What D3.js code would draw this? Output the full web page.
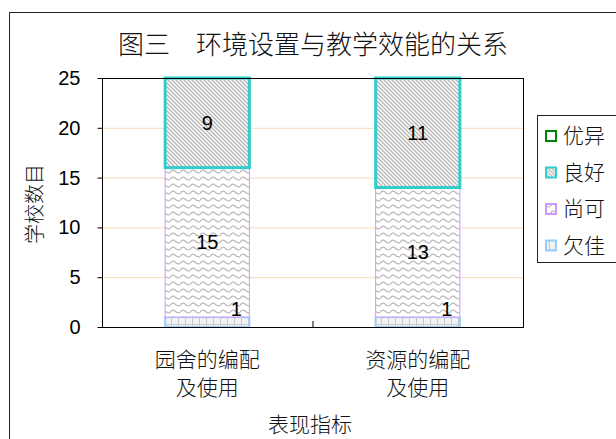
<!DOCTYPE html>
<html>
<head>
<meta charset="utf-8">
<script src="https://cdn.jsdelivr.net/npm/d3@7"></script>
<style>
  body { margin: 0; background: #fff; }
  svg { display: block; }
  text { font-family: "Liberation Sans", Arial, "Noto Sans CJK SC", sans-serif; fill: #000; }
  .cjk { font-family: "Noto Sans CJK SC", sans-serif; font-weight: 300; fill: #111; }
</style>
</head>
<body>
<svg width="616" height="439"></svg>
<script>
// chart data
const categories = ["园舍的编配\n及使用", "资源的编配\n及使用"];
const seriesNames = ["欠佳", "尚可", "良好", "优异"];
const poor = [1, 1];
const fair = [15, 13];
const good = [9, 11];
const excellent = [0, 0];
const yTicks = [0, 5, 10, 15, 20, 25];

const svg = d3.select("svg"),
      width = 616,
      height = 439;

const margin = {left: 102, top: 78, right: 523, bottom: 327};

// outer frame
svg.append("rect")
    .attr("x", 9.5).attr("y", 12.5)
    .attr("width", 640).attr("height", 460)
    .attr("fill", "none").attr("stroke", "#222").attr("stroke-width", 1);

// patterns
const defs = svg.append("defs");

const diag = defs.append("pattern")
    .attr("id", "diag").attr("patternUnits", "userSpaceOnUse")
    .attr("width", 4).attr("height", 4);
diag.append("rect").attr("width", 4).attr("height", 4).attr("fill", "#fff");
diag.append("path").attr("d", "M-1,-1 L5,5 M-1,3 L1,5 M3,-1 L5,1")
    .attr("stroke", "#b4b4b4").attr("stroke-width", 1.3);

const wave = defs.append("pattern")
    .attr("id", "wave").attr("patternUnits", "userSpaceOnUse")
    .attr("width", 10).attr("height", 7);
wave.append("rect").attr("width", 10).attr("height", 7).attr("fill", "#fff");
wave.append("path").attr("d", "M0,4.5 Q2.5,0.5 5,3 T10,4.5")
    .attr("fill", "none").attr("stroke", "#bcbcbc").attr("stroke-width", 1.3);

const grid = defs.append("pattern")
    .attr("id", "grid").attr("patternUnits", "userSpaceOnUse")
    .attr("width", 7).attr("height", 10);
grid.append("rect").attr("width", 7).attr("height", 10).attr("fill", "#f2f2f2");
grid.append("path").attr("d", "M3.5,0 L3.5,10 M0,4.5 L7,4.5")
    .attr("stroke", "#c8c8c8").attr("stroke-width", 1);

const styles = {
  "欠佳": {fill: "url(#grid)", stroke: "#99ccff", sw: 2},
  "尚可": {fill: "url(#wave)", stroke: "#cc99ff", sw: 1},
  "良好": {fill: "url(#diag)", stroke: "#33cccc", sw: 3},
  "优异": {fill: "#fff", stroke: "#008000", sw: 2}
};

const x = d3.scaleBand()
    .domain(categories)
    .range([margin.left, margin.right])
    .paddingInner(0.6)
    .paddingOuter(0.3);

const y = d3.scaleLinear()
    .domain([0, 25])
    .range([margin.bottom, margin.top]);

// gridlines
svg.append("g")
    .selectAll("line")
    .data(yTicks.filter(d => d > 0 && d < 25))
    .enter().append("line")
    .attr("x1", margin.left).attr("x2", margin.right)
    .attr("y1", d => y(d) + 0.5).attr("y2", d => y(d) + 0.5)
    .attr("stroke", "#fcd9b4").attr("stroke-width", 1);

// stacked data
const rows = categories.map((c, i) => ({
  cat: c, "欠佳": poor[i], "尚可": fair[i], "良好": good[i], "优异": excellent[i]
}));
const stacked = d3.stack().keys(seriesNames)(rows);
stacked.forEach(s => s.forEach(d => { d.key = s.key; }));

svg.append("g").selectAll("g")
    .data(stacked)
    .enter().append("g")
    .selectAll("rect")
    .data(s => s.filter(d => d[1] - d[0] > 0))
    .enter().append("rect")
    .attr("x", d => x(d.data.cat))
    .attr("width", x.bandwidth())
    .attr("y", d => y(d[1]))
    .attr("height", d => y(d[0]) - y(d[1]))
    .attr("fill", d => styles[d.key].fill)
    .attr("stroke", d => styles[d.key].stroke)
    .attr("stroke-width", d => styles[d.key].sw);

// value labels, on top of every segment
svg.append("g").selectAll("text")
    .data(stacked.flat().filter(d => d[1] - d[0] > 0))
    .enter().append("text")
    .attr("x", d => d.key === "欠佳" ? x(d.data.cat) + x.bandwidth() - 13 : x(d.data.cat) + x.bandwidth() / 2)
    .attr("y", d => d.key === "欠佳" ? y(d[1]) - 1 : y((d[0] + d[1]) / 2) + 7)
    .attr("text-anchor", "middle")
    .attr("font-size", 20)
    .text(d => d[1] - d[0]);

// plot frame
svg.append("rect")
    .attr("x", margin.left + 0.5).attr("y", margin.top + 0.5)
    .attr("width", margin.right - margin.left).attr("height", margin.bottom - margin.top)
    .attr("fill", "none").attr("stroke", "#000").attr("stroke-width", 1);

// y axis
const yAxis = svg.append("g")
    .attr("transform", `translate(${margin.left + 0.5},0)`)
    .call(d3.axisLeft(y).tickValues(yTicks).tickSize(5).tickPadding(17));
yAxis.select(".domain").remove();
yAxis.selectAll("line").attr("stroke", "#000");
yAxis.selectAll("text").attr("font-size", 20)
    .attr("font-family", "'Liberation Sans', Arial, sans-serif");

// category divider tick
svg.append("line")
    .attr("x1", (margin.left + margin.right) / 2 + 0.5)
    .attr("x2", (margin.left + margin.right) / 2 + 0.5)
    .attr("y1", margin.bottom - 6).attr("y2", margin.bottom)
    .attr("stroke", "#000");

// x labels
svg.append("g").selectAll("text")
    .data(categories)
    .enter().append("text")
    .attr("class", "cjk")
    .attr("text-anchor", "middle")
    .attr("font-size", 21)
    .each(function(d) {
      const t = d3.select(this);
      d.split("\n").forEach((line, i) => {
        t.append("tspan")
          .attr("x", x(d) + x.bandwidth() / 2)
          .attr("y", 367 + i * 28)
          .text(line);
      });
    });

// titles
svg.append("text")
    .attr("class", "cjk")
    .attr("x", 313).attr("y", 54)
    .attr("text-anchor", "middle")
    .attr("font-size", 26)
    .text("图三　环境设置与教学效能的关系");

svg.append("text")
    .attr("class", "cjk")
    .attr("x", 310).attr("y", 432)
    .attr("text-anchor", "middle")
    .attr("font-size", 21)
    .text("表现指标");

svg.append("text")
    .attr("class", "cjk")
    .attr("transform", "translate(42,204) rotate(-90)")
    .attr("text-anchor", "middle")
    .attr("font-size", 20)
    .text("学校数目");

// legend
const legend = svg.append("g");
legend.append("rect")
    .attr("x", 537.5).attr("y", 115.5)
    .attr("width", 90).attr("height", 147)
    .attr("fill", "#fff").attr("stroke", "#222");

const legendItems = seriesNames.slice().reverse();
const item = legend.selectAll("g.item")
    .data(legendItems)
    .enter().append("g")
    .attr("class", "item")
    .attr("transform", (d, i) => `translate(0,${136 + i * 36.5})`);

item.append("rect")
    .attr("x", 546).attr("y", -5)
    .attr("width", 10).attr("height", 10)
    .attr("fill", d => styles[d].fill)
    .attr("stroke", d => styles[d].stroke)
    .attr("stroke-width", 2);

item.append("text")
    .attr("class", "cjk")
    .attr("x", 563).attr("y", 7)
    .attr("font-size", 21)
    .text(d => d);
</script>
</body>
</html>
